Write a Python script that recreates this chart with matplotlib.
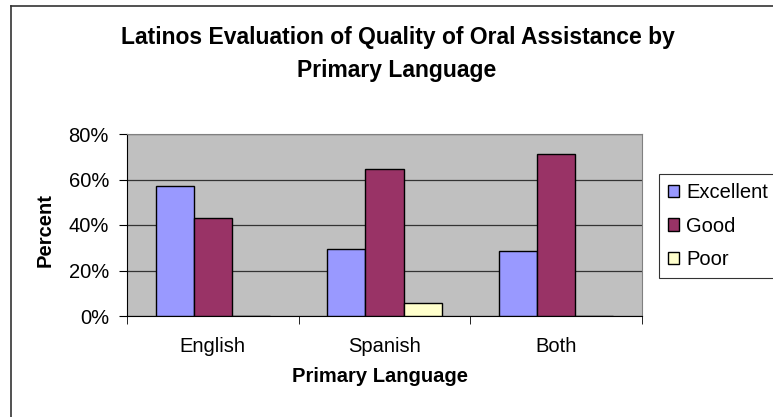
import matplotlib.pyplot as plt
import numpy as np
from matplotlib.lines import Line2D
from matplotlib.ticker import PercentFormatter

plt.rcParams['font.family'] = ['Liberation Sans', 'DejaVu Sans']

languages = ['English', 'Spanish', 'Both']
ratings = ['Excellent', 'Good', 'Poor']
excellent = [57.1, 29.4, 28.6]
good = [42.9, 64.7, 71.4]
poor = [0.0, 5.9, 0.0]
colors = ['#9999FF', '#993366', '#FFFFCC']

W, H = 773, 417
fs = 14.5
fig = plt.figure(figsize=(W / 100, H / 100), dpi=100)
ax = fig.add_axes([127 / W, 1 - 316 / H, (642 - 127) / W, (316 - 134) / H])
ax.set_facecolor('#C0C0C0')

x = np.arange(len(languages))
bar_w = 1 / 4.5
for i, (vals, name) in enumerate(zip([excellent, good, poor], ratings)):
    ax.bar(x + (i - 1) * bar_w, vals, width=bar_w, color=colors[i],
           edgecolor='black', linewidth=1, label=name, zorder=3)

ax.set_xlim(-0.5, 2.5)
ax.set_ylim(0, 80)
ax.set_yticks([0, 20, 40, 60, 80])
ax.yaxis.set_major_formatter(PercentFormatter(decimals=0))
ax.grid(axis='y', color='#333333', linewidth=0.9, zorder=1)

ax.set_xticks(x)
ax.set_xticklabels(languages, fontsize=fs)
ax.set_xticks([-0.5, 0.5, 1.5, 2.5], minor=True)
ax.tick_params(axis='x', which='major', length=0, pad=15)
ax.tick_params(axis='x', which='minor', length=6, direction='out', color='black')
ax.tick_params(axis='y', length=6, direction='out', labelsize=fs, pad=7)

for side in ['top', 'right']:
    ax.spines[side].set_color('#808080')
ax.spines['left'].set_color('black')
ax.spines['bottom'].set_color('black')

ax.set_xlabel('Primary Language', fontsize=fs, fontweight='bold', va='center')
ax.xaxis.set_label_coords(380 / W, 1 - 377 / H, transform=fig.transFigure)
ax.set_ylabel('Percent', fontsize=fs, fontweight='bold', va='center')
ax.yaxis.set_label_coords(45 / W, 1 - 230 / H, transform=fig.transFigure)

fig.text(398 / W, 1 - 37.5 / H, 'Latinos Evaluation of Quality of Oral Assistance by',
         ha='center', va='center', fontsize=16.5, fontweight='bold')
fig.text(397 / W, 1 - 70 / H, 'Primary Language',
         ha='center', va='center', fontsize=16.5, fontweight='bold')

leg = ax.legend(loc='upper left', bbox_to_anchor=(659 / W, 1 - 174 / H),
                bbox_transform=fig.transFigure, frameon=True, fancybox=False,
                edgecolor='black', fontsize=fs, handlelength=0.55, handleheight=0.55,
                handletextpad=0.35, labelspacing=0.72, borderpad=0.45,
                borderaxespad=0)
leg.get_frame().set_linewidth(0.8)

# chart area border (left and top edges)
fig.add_artist(Line2D([11 / W, 11 / W], [0, 1 - 6 / H], transform=fig.transFigure,
                      color='#333333', linewidth=1.2))
fig.add_artist(Line2D([11 / W, 1], [1 - 6 / H, 1 - 6 / H], transform=fig.transFigure,
                      color='#333333', linewidth=1.2))

fig.savefig('out.png', dpi=100)
